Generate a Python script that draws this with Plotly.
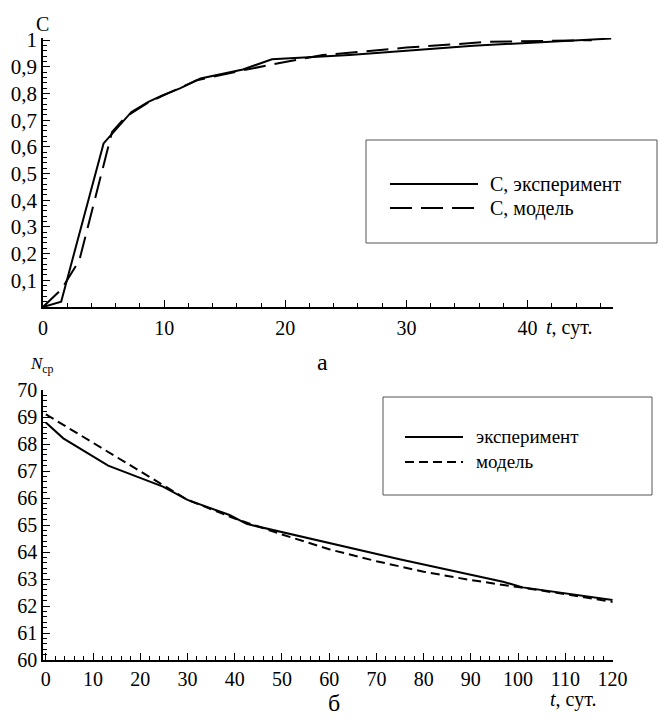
import plotly.graph_objects as go

# ---- Data: top chart (C vs t) ----
t_c_exp = [0, 1.5, 5.0, 6.8, 7.3, 8.7, 9.9, 11.3, 13.0, 16.5, 18.9, 25.3, 35.5, 46.9]
c_exp = [0.0, 0.02, 0.613, 0.706, 0.731, 0.769, 0.794, 0.819, 0.856, 0.89, 0.928, 0.944, 0.979, 1.006]

t_c_mod = [0, 1.5, 3.0, 5.7, 6.8, 8.7, 9.9, 12.7, 16.5, 19.3, 20.2, 23.1, 25.0, 30.0, 36.9, 45.3]
c_mod = [0.0, 0.065, 0.175, 0.656, 0.712, 0.767, 0.792, 0.85, 0.887, 0.913, 0.92, 0.944, 0.952, 0.972, 0.994, 1.0]

# ---- Data: bottom chart (N_cp vs t) ----
t_n_exp = [0, 3.7, 13.2, 24.8, 30, 38.9, 42.5, 59.7, 74.9, 96.8, 101, 120]
n_exp = [68.8, 68.21, 67.2, 66.42, 65.93, 65.37, 65.04, 64.35, 63.73, 62.9, 62.69, 62.22]

t_n_mod = [0, 10, 20, 30, 40, 50, 60, 70, 80, 90, 100, 110, 120]
n_mod = [69.1, 68.05, 66.97, 65.93, 65.24, 64.65, 64.1, 63.66, 63.27, 62.96, 62.7, 62.44, 62.15]

top_y_ticks = [0.1, 0.2, 0.3, 0.4, 0.5, 0.6, 0.7, 0.8, 0.9, 1.0]
top_y_labels = ["0,1", "0,2", "0,3", "0,4", "0,5", "0,6", "0,7", "0,8", "0,9", "1"]
top_x_ticks = [0, 10, 20, 30, 40]
bot_y_ticks = [60, 61, 62, 63, 64, 65, 66, 67, 68, 69, 70]
bot_x_ticks = [0, 10, 20, 30, 40, 50, 60, 70, 80, 90, 100, 110, 120]

FONT = "Liberation Serif"
W, H = 659, 719


def px(x):
    return x / W


def py(y):
    return 1 - y / H


fig = go.Figure()
fig.add_trace(go.Scatter(x=t_c_exp, y=c_exp, mode="lines",
                         line=dict(color="black", width=2), xaxis="x", yaxis="y"))
fig.add_trace(go.Scatter(x=t_c_mod, y=c_mod, mode="lines",
                         line=dict(color="black", width=2, dash="22px,9px"), xaxis="x", yaxis="y"))
fig.add_trace(go.Scatter(x=t_n_exp, y=n_exp, mode="lines",
                         line=dict(color="black", width=2), xaxis="x2", yaxis="y2"))
fig.add_trace(go.Scatter(x=t_n_mod, y=n_mod, mode="lines",
                         line=dict(color="black", width=2, dash="9px,5px"), xaxis="x2", yaxis="y2"))


def tf(size):
    return dict(family=FONT, size=size, color="black")


fig.update_layout(
    template="none",
    width=W, height=H,
    margin=dict(l=0, r=0, t=0, b=0),
    showlegend=False,
    xaxis=dict(domain=[px(43), px(613)], range=[0, 47.05], anchor="y", automargin=False,
               showline=True, linecolor="black", linewidth=1.5, showgrid=False, zeroline=False,
               ticks="inside", ticklen=7, tickcolor="black", tickfont=tf(20),
               tickmode="array", tickvals=top_x_ticks, ticklabelstandoff=2,
               minor=dict(dtick=2, tick0=0, ticks="inside", ticklen=4, tickcolor="black")),
    yaxis=dict(domain=[py(307), py(38)], range=[0, 1.008], anchor="x", automargin=False,
               showline=True, linecolor="black", linewidth=1.5, showgrid=False, zeroline=False,
               ticks="inside", ticklen=7, tickcolor="black", tickfont=tf(21),
               tickmode="array", tickvals=top_y_ticks, ticktext=top_y_labels,
               minor=dict(dtick=0.02, tick0=0, ticks="inside", ticklen=4, tickcolor="black")),
    xaxis2=dict(domain=[px(43), px(613)], range=[-0.6, 120.1], anchor="y2", automargin=False,
                showline=True, linecolor="black", linewidth=1.5, showgrid=False, zeroline=False,
                ticks="inside", ticklen=7, tickcolor="black", tickfont=tf(20),
                tickmode="array", tickvals=bot_x_ticks,
                minor=dict(dtick=2, tick0=0, ticks="inside", ticklen=4, tickcolor="black")),
    yaxis2=dict(domain=[py(660), py(390)], range=[60, 70], anchor="x2", automargin=False,
                showline=True, linecolor="black", linewidth=1.5, showgrid=False, zeroline=False,
                ticks="inside", ticklen=7, tickcolor="black", tickfont=tf(20),
                tickmode="array", tickvals=bot_y_ticks,
                minor=dict(dtick=0.2, tick0=60, ticks="inside", ticklen=4, tickcolor="black")),
)

shapes = []
annotations = []


def text(x, y, s, size=20, xanchor="center"):
    annotations.append(dict(x=px(x), y=py(y), xref="paper", yref="paper", text=s,
                            showarrow=False, xanchor=xanchor, yanchor="middle",
                            font=tf(size)))


# axis titles / captions
text(42, 24, "С", 20)
text(42, 365, "<i>N</i><sub>ср</sub>", 17)
text(544, 328, "<i>t</i>, сут.", 20, "left")
text(548, 699, "<i>t</i>, сут.", 20, "left")
text(322, 362, "а", 24)
text(334, 703, "б", 24)

# legend top
shapes.append(dict(type="rect", xref="paper", yref="paper", x0=px(366), x1=px(657),
                   y0=py(243), y1=py(140), line=dict(color="#555", width=1)))
shapes.append(dict(type="line", xref="paper", yref="paper", x0=px(390), x1=px(478),
                   y0=py(184), y1=py(184), line=dict(color="black", width=2)))
shapes.append(dict(type="line", xref="paper", yref="paper", x0=px(390), x1=px(478),
                   y0=py(208), y1=py(208), line=dict(color="black", width=2, dash="22px,9px")))
text(488, 184, "С, эксперимент", 20, "left")
text(488, 208, "С, модель", 20, "left")

# legend bottom
shapes.append(dict(type="rect", xref="paper", yref="paper", x0=px(383), x1=px(652),
                   y0=py(495), y1=py(397), line=dict(color="#555", width=1)))
shapes.append(dict(type="line", xref="paper", yref="paper", x0=px(405), x1=px(463),
                   y0=py(437), y1=py(437), line=dict(color="black", width=2)))
shapes.append(dict(type="line", xref="paper", yref="paper", x0=px(405), x1=px(463),
                   y0=py(462), y1=py(462), line=dict(color="black", width=2, dash="9px,5px")))
text(474, 436, "эксперимент", 19, "left")
text(474, 461, "модель", 19, "left")

fig.update_layout(shapes=shapes, annotations=annotations)
fig.write_html("out.html")
